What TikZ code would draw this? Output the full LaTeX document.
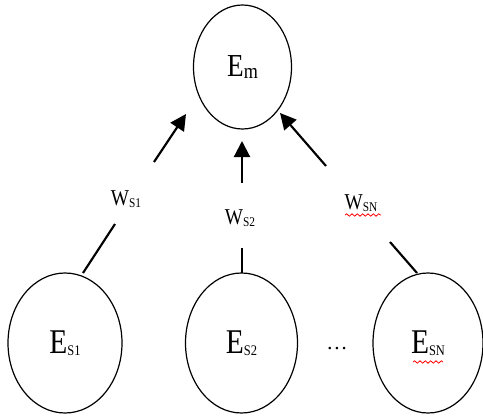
\documentclass[tikz,border=0pt]{standalone}
\usepackage{fontspec}
\setmainfont{Liberation Serif}
\usetikzlibrary{shapes.geometric,arrows.meta,decorations.pathmorphing}
\begin{document}
\begin{tikzpicture}[x=0.75pt,y=-0.75pt,
  ent/.style={ellipse,draw,line width=0.9pt,inner sep=0pt},
  conn/.style={line width=1.6pt},
  arr/.style={line width=1.6pt,-{Triangle[length=12pt,width=12pt]}},
  spell/.style={draw=red,line width=0.6pt,decorate,decoration={snake,amplitude=0.9pt,segment length=4pt}}]
\useasboundingbox (0,0) rectangle (483,418);
% entities
\node[ent,minimum width=73.5pt,minimum height=93pt] (Em) at (242.5,67)
  {\scalebox{0.85}[1]{\fontsize{24}{24}\selectfont E\raisebox{-1pt}{\fontsize{16}{16}\selectfont m}}};
\node[ent,minimum width=85.5pt,minimum height=105pt] (Es1) at (65,343)
  {\scalebox{0.85}[1]{\fontsize{26}{26}\selectfont E\raisebox{-1.5pt}{\fontsize{11}{11}\selectfont S1}}};
\node[ent,minimum width=84pt,minimum height=105pt] (Es2) at (241.5,343)
  {\scalebox{0.85}[1]{\fontsize{26}{26}\selectfont E\raisebox{-1.5pt}{\fontsize{11}{11}\selectfont S2}}};
\node[ent,minimum width=82.5pt,minimum height=105pt] (EsN) at (428,343)
  {\scalebox{0.85}[1]{\fontsize{26}{26}\selectfont E\raisebox{-1.5pt}{\fontsize{11}{11}\selectfont SN}}};
\node (dots) at (337,349) {\fontsize{16}{16}\selectfont\dots};
% weight labels
\node (w1) at (126,199) {\scalebox{0.85}[1]{\fontsize{17}{17}\selectfont W\raisebox{-1pt}{\fontsize{10}{10}\selectfont S1}}};
\node (w2) at (240,218) {\scalebox{0.85}[1]{\fontsize{17}{17}\selectfont W\raisebox{-1pt}{\fontsize{10}{10}\selectfont S2}}};
\node (wN) at (361,203) {\scalebox{0.85}[1]{\fontsize{17}{17}\selectfont W\raisebox{-1pt}{\fontsize{10}{10}\selectfont SN}}};
% connector end points
\coordinate (a1) at (83,273);  \coordinate (b1) at (115,224);
\coordinate (c1) at (154,162); \coordinate (d1) at (186,114);
\coordinate (a2) at (242,273); \coordinate (b2) at (242,248);
\coordinate (c2) at (242,183); \coordinate (d2) at (242,141);
\coordinate (a3) at (417,273); \coordinate (b3) at (390,242);
\coordinate (c3) at (326,166); \coordinate (d3) at (280,113);
\draw[conn] (a1) -- (b1);
\draw[conn] (a2) -- (b2);
\draw[conn] (a3) -- (b3);
\draw[arr] (c1) -- (d1);
\draw[arr] (c2) -- (d2);
\draw[arr] (c3) -- (d3);
% spell-check underlines
\coordinate (s1a) at (345,215); \coordinate (s1b) at (381,215);
\coordinate (s2a) at (413,362); \coordinate (s2b) at (443,362);
\draw[spell] (s1a) -- (s1b);
\draw[spell] (s2a) -- (s2b);
\end{tikzpicture}
\end{document}
